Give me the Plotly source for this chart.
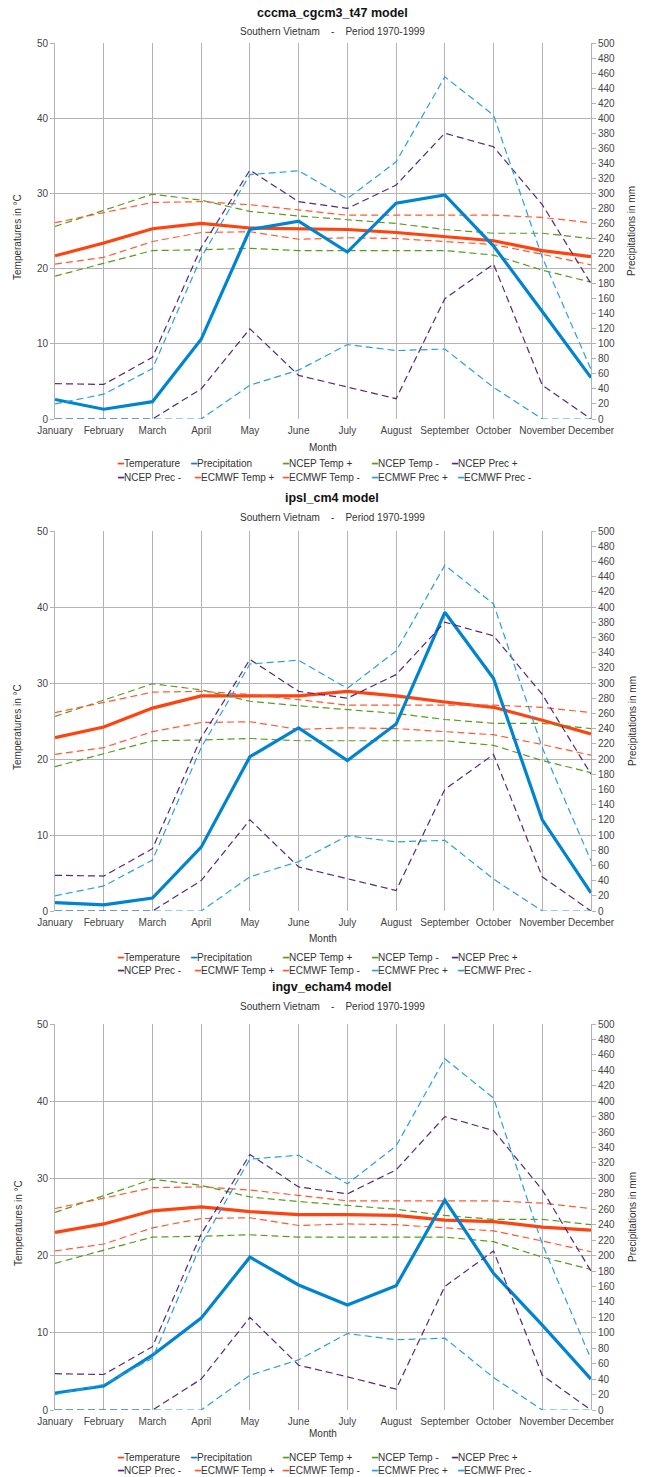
import plotly.graph_objects as go

# ---------------- data ----------------
months = ["January", "February", "March", "April", "May", "June", "July",
          "August", "September", "October", "November", "December"]

model_titles = ["cccma_cgcm3_t47 model", "ipsl_cm4 model", "ingv_echam4 model"]
subtitle = "Southern Vietnam\u00a0\u00a0\u00a0\u00a0-\u00a0\u00a0\u00a0\u00a0Period 1970-1999"

# model series (temperature in °C, precipitation in mm)
temp_cccma = [21.7, 23.4, 25.3, 26.0, 25.4, 25.3, 25.2, 24.8, 24.2, 23.7, 22.4, 21.6]
prec_cccma = [26, 13, 23, 106, 252, 263, 222, 287, 298, 230, 143, 55]
temp_ipsl = [22.8, 24.2, 26.7, 28.3, 28.3, 28.3, 28.9, 28.3, 27.5, 26.8, 25.1, 23.3]
prec_ipsl = [11, 8, 17, 84, 203, 241, 198, 246, 393, 306, 120, 24]
temp_ingv = [23.0, 24.1, 25.8, 26.3, 25.7, 25.3, 25.3, 25.2, 24.6, 24.4, 23.7, 23.3]
prec_ingv = [22, 31, 71, 119, 198, 162, 136, 161, 272, 177, 110, 40]

# observation envelopes (same in every panel)
ncep_temp_plus = [25.6, 27.8, 29.9, 29.1, 27.6, 27.0, 26.5, 26.0, 25.2, 24.7, 24.7, 24.0]
ncep_temp_minus = [19.0, 20.7, 22.4, 22.5, 22.7, 22.4, 22.4, 22.4, 22.4, 21.8, 19.8, 18.2]
ecmwf_temp_plus = [26.1, 27.5, 28.8, 28.9, 28.5, 27.8, 27.1, 27.1, 27.1, 27.1, 26.8, 26.1]
ecmwf_temp_minus = [20.6, 21.5, 23.6, 24.8, 24.9, 23.9, 24.1, 24.0, 23.6, 23.2, 21.9, 20.5]
ncep_prec_plus = [47, 46, 82, 228, 331, 289, 280, 311, 380, 362, 285, 180]
ncep_prec_minus = [0, 0, 0, 40, 120, 58, 43, 27, 160, 206, 45, 0]
ecmwf_prec_plus = [20, 33, 67, 215, 325, 330, 293, 342, 455, 404, 215, 66]
ecmwf_prec_minus = [0, 0, 0, 0, 45, 65, 99, 91, 93, 42, 0, 0]

temp_ticks = [0, 10, 20, 30, 40, 50]
prec_ticks = list(range(0, 501, 20))

# ---------------- styles / layout (page pixels) ----------------
WF, HF = 647, 1477
X0, X1 = 55, 591
FONT = "Liberation Sans, Arial, sans-serif"
GRID = "#b3b3b3"
TXT = "#333333"
TICK = "#444444"

C_TEMP = "#ff420e"
C_PREC = "#0084d1"
C_NCEP_T = "#579d1c"
C_NCEP_P = "#55287a"
C_ECMWF_T = "#ff5a30"
C_ECMWF_P = "#2a9fe0"
DASH = "7px,4px"


def fx(p):
    return p / WF


def fy(p):
    return 1 - p / HF


panels = [
    dict(title=model_titles[0], temp=temp_cccma, prec=prec_cccma,
         top=43, bottom=419, ty=13, sy=31, my=447, legy=(463, 477)),
    dict(title=model_titles[1], temp=temp_ipsl, prec=prec_ipsl,
         top=531, bottom=911, ty=498, sy=517, my=938, legy=(957, 970)),
    dict(title=model_titles[2], temp=temp_ingv, prec=prec_ingv,
         top=1024, bottom=1410, ty=987, sy=1006, my=1433, legy=(1457, 1470)),
]

legend_rows = [
    [("Temperature", C_TEMP), ("Precipitation", C_PREC), ("NCEP Temp +", C_NCEP_T),
     ("NCEP Temp -", C_NCEP_T), ("NCEP Prec +", C_NCEP_P)],
    [("NCEP Prec -", C_NCEP_P), ("ECMWF Temp +", C_ECMWF_T), ("ECMWF Temp -", C_ECMWF_T),
     ("ECMWF Prec +", C_ECMWF_P), ("ECMWF Prec -", C_ECMWF_P)],
]
legend_col_widths = [[73, 92, 89, 80, 95], [77, 88, 89, 86, 100]]
LEG_X = 118          # page x of the first legend symbol
TEXT_GAP = 25        # indentation(-15) + itemwidth(30) + 2*itemGap(5)
ITEM_GAP = 5

fig = go.Figure()
layout = dict(
    width=WF, height=HF, margin=dict(l=0, r=0, t=0, b=0, autoexpand=False),
    paper_bgcolor="white", plot_bgcolor="white",
    font=dict(family=FONT, size=10, color=TXT),
    showlegend=True, annotations=[],
)

for k, p in enumerate(panels):
    xa = "x" if k == 0 else f"x{k + 1}"
    yl = "y" if k == 0 else f"y{2 * k + 1}"
    yr = f"y{2 * k + 2}"
    xkey = "xaxis" if k == 0 else f"xaxis{k + 1}"
    ylkey = "yaxis" if k == 0 else f"yaxis{2 * k + 1}"
    yrkey = f"yaxis{2 * k + 2}"

    # temperature side
    fig.add_trace(go.Scatter(x=months, y=p["temp"], xaxis=xa, yaxis=yl, mode="lines",
                             line=dict(color=C_TEMP, width=3.2), showlegend=False,
                             cliponaxis=False, name="Temperature"))
    for vals, col, nm in [(ncep_temp_plus, C_NCEP_T, "NCEP Temp +"),
                          (ncep_temp_minus, C_NCEP_T, "NCEP Temp -"),
                          (ecmwf_temp_plus, C_ECMWF_T, "ECMWF Temp +"),
                          (ecmwf_temp_minus, C_ECMWF_T, "ECMWF Temp -")]:
        fig.add_trace(go.Scatter(x=months, y=vals, xaxis=xa, yaxis=yl, mode="lines",
                                 line=dict(color=col, width=1.2, dash=DASH),
                                 showlegend=False, cliponaxis=False, name=nm))
    # precipitation side
    fig.add_trace(go.Scatter(x=months, y=p["prec"], xaxis=xa, yaxis=yr, mode="lines",
                             line=dict(color=C_PREC, width=3.2), showlegend=False,
                             cliponaxis=False, name="Precipitation"))
    for vals, col, nm in [(ncep_prec_plus, C_NCEP_P, "NCEP Prec +"),
                          (ncep_prec_minus, C_NCEP_P, "NCEP Prec -"),
                          (ecmwf_prec_plus, C_ECMWF_P, "ECMWF Prec +"),
                          (ecmwf_prec_minus, C_ECMWF_P, "ECMWF Prec -")]:
        fig.add_trace(go.Scatter(x=months, y=vals, xaxis=xa, yaxis=yr, mode="lines",
                                 line=dict(color=col, width=1.2, dash=DASH),
                                 showlegend=False, cliponaxis=False, name=nm))

    layout[xkey] = dict(
        type="category", categoryorder="array", categoryarray=months,
        range=[0, len(months) - 1], domain=[fx(X0), fx(X1)], anchor=yl,
        showgrid=True, gridcolor=GRID, gridwidth=1, showline=False, zeroline=False,
        ticks="", tickangle=0, ticklabelstandoff=4, tickfont=dict(size=10, color=TICK),
        automargin=False, fixedrange=True,
    )
    layout[ylkey] = dict(
        range=[0, 50], tickvals=temp_ticks, domain=[fy(p["bottom"]), fy(p["top"])],
        anchor=xa, showgrid=True, gridcolor=GRID, gridwidth=1, zeroline=False,
        showline=True, linecolor=GRID, linewidth=1, ticks="outside", ticklen=4,
        tickcolor=GRID, tickfont=dict(size=10, color=TICK), automargin=False,
        fixedrange=True,
    )
    layout[yrkey] = dict(
        range=[0, 500], tickvals=prec_ticks, overlaying=yl, side="right", anchor=xa,
        showgrid=False, zeroline=False, showline=True, linecolor=GRID, linewidth=1,
        ticks="outside", ticklen=4, tickcolor=GRID, tickfont=dict(size=10, color=TICK),
        automargin=False, fixedrange=True,
    )

    ann = layout["annotations"]
    ann.append(dict(text=f"<b>{p['title']}</b>", x=fx(332), y=fy(p["ty"]), xref="paper",
                    yref="paper", showarrow=False, xanchor="center", yanchor="middle",
                    font=dict(size=12.5, color="#111111")))
    ann.append(dict(text=subtitle, x=fx(332), y=fy(p["sy"]), xref="paper", yref="paper",
                    showarrow=False, xanchor="center", yanchor="middle",
                    font=dict(size=10, color=TXT)))
    ann.append(dict(text="Month", x=fx((X0 + X1) / 2), y=fy(p["my"]), xref="paper",
                    yref="paper", showarrow=False, xanchor="center", yanchor="middle",
                    font=dict(size=10, color=TXT)))
    mid = (p["top"] + p["bottom"]) / 2
    ann.append(dict(text="Temperatures in °C", x=fx(18), y=fy(mid + 6), xref="paper",
                    yref="paper", showarrow=False, textangle=-90, xanchor="center",
                    yanchor="middle", font=dict(size=10, color=TXT)))
    ann.append(dict(text="Precipitations in mm", x=fx(632), y=fy(mid), xref="paper",
                    yref="paper", showarrow=False, textangle=-90, xanchor="center",
                    yanchor="middle", font=dict(size=10, color=TXT)))

    # legends: two rows per panel, symbol drawn as a coloured line character
    for r, row in enumerate(legend_rows):
        lid = 2 * k + r
        lref = "legend" if lid == 0 else f"legend{lid + 1}"
        for (nm, col), wdt in zip(row, legend_col_widths[r]):
            label = f"<span style='color:{col}'>━</span>{nm}"
            fig.add_trace(go.Scatter(x=[None], y=[None], xaxis=xa, yaxis=yl, mode="lines",
                                     line=dict(color=col, width=0), name=label,
                                     legend=lref, showlegend=True,
                                     legendwidth=wdt - TEXT_GAP - ITEM_GAP))
        layout[lref] = dict(
            orientation="h", x=fx(LEG_X - TEXT_GAP), xanchor="left",
            y=fy(p["legy"][r]), yanchor="middle",
            font=dict(size=10, color=TXT), bgcolor="rgba(0,0,0,0)",
            borderwidth=0, itemwidth=30, indentation=-15, traceorder="normal",
            itemclick=False, itemdoubleclick=False,
        )

fig.update_layout(**layout)
# the page's default 8px body margin would shift the chart; remove it
fig.write_html("out.html", config={"displayModeBar": False},
               post_script="document.body.style.margin='0px';")
